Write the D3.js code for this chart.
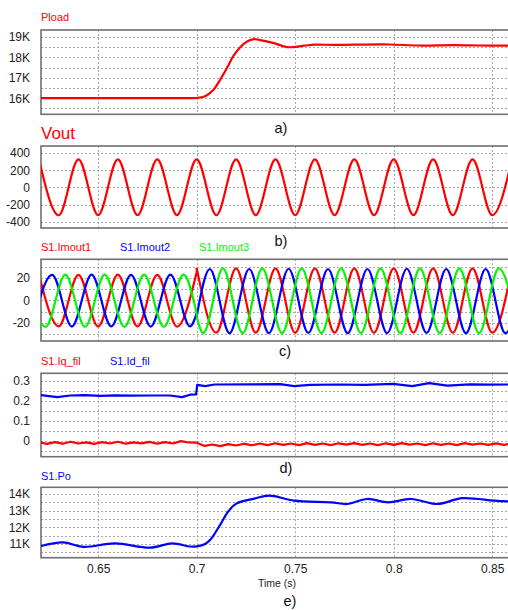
<!DOCTYPE html>
<html lang="en">
<head>
<meta charset="utf-8">
<title>Load step waveforms</title>
<script src="https://cdn.jsdelivr.net/npm/d3@7"></script>
<style>
body { margin: 0; background: #fff; }
text { font-family: "Liberation Sans", Arial, sans-serif; }
</style>
</head>
<body>
<script>
// x axis
var xTicks = [0.65, 0.7, 0.75, 0.8, 0.85];

// a) Pload
var ploadT = [0.621, 0.650, 0.680, 0.696, 0.700, 0.7043, 0.7084, 0.7119, 0.7155, 0.7185, 0.7221, 0.7256, 0.7292, 0.7317, 0.7393, 0.7459, 0.7546, 0.7596, 0.7700, 0.7977, 0.8129, 0.8307, 0.8434, 0.8581];
var ploadV = [16000, 16000, 16000, 16000, 16010, 16100, 16400, 16900, 17500, 18050, 18500, 18780, 18890, 18860, 18700, 18500, 18570, 18620, 18610, 18630, 18580, 18600, 18580, 18570];
var ploadTicks = [16000, 17000, 18000, 19000];

// b) Vout (peaks and troughs)
var voutT = [0.62, 0.63, 0.64, 0.65, 0.66, 0.67, 0.68, 0.69, 0.70, 0.71, 0.72, 0.73, 0.74, 0.75, 0.76, 0.77, 0.78, 0.79, 0.80, 0.81, 0.82, 0.83, 0.84, 0.85, 0.86];
var voutV = [325, -322, 326, -321, 325, -322, 326, -321, 325, -322, 326, -321, 325, -322, 326, -321, 325, -322, 326, -321, 325, -322, 326, -321, 325];
var voutTicks = [-400, -200, 0, 200, 400];

// c) output currents, before and after the step at 0.7 s
var im1PreT = [0.62, 0.63, 0.64, 0.65, 0.66, 0.67, 0.68, 0.69, 0.70];
var im1PreV = [23, -23, 22.8, -23.2, 23, -23, 22.8, -23.2, 25];
var im1PostT = [0.70, 0.71, 0.72, 0.73, 0.74, 0.75, 0.76, 0.77, 0.78, 0.79, 0.80, 0.81, 0.82, 0.83, 0.84, 0.85, 0.86];
var im1PostV = [29, -28.6, 28.6, -28.6, 28.5, -28.7, 28.6, -28.6, 28.5, -28.7, 28.6, -28.6, 28.5, -28.7, 28.6, -28.6, 28.5];

var im2PreT = [0.61667, 0.62667, 0.63667, 0.64667, 0.65667, 0.66667, 0.67667, 0.68667, 0.69667, 0.70];
var im2PreV = [-23, 22.8, -23.2, 23, -23, 22.8, -23.2, 23, -23, -11.5];
var im2PostT = [0.70, 0.70667, 0.71667, 0.72667, 0.73667, 0.74667, 0.75667, 0.76667, 0.77667, 0.78667, 0.79667, 0.80667, 0.81667, 0.82667, 0.83667, 0.84667, 0.85667, 0.86667];
var im2PostV = [-14.2, 28, -29, 28, -29, 28.2, -28.8, 28, -29, 28, -29, 28.2, -28.8, 28, -29, 28, -29, 28];

var im3PreT = [0.61333, 0.62333, 0.63333, 0.64333, 0.65333, 0.66333, 0.67333, 0.68333, 0.69333, 0.70];
var im3PreV = [23, -23.5, 23, -23.5, 23, -23.5, 23, -23.5, 23, -11.5];
var im3PostT = [0.70, 0.70333, 0.71333, 0.72333, 0.73333, 0.74333, 0.75333, 0.76333, 0.77333, 0.78333, 0.79333, 0.80333, 0.81333, 0.82333, 0.83333, 0.84333, 0.85333, 0.86333];
var im3PostV = [-14.2, -29, 28.6, -29, 28.6, -29, 28.6, -29, 28.6, -29, 28.6, -29, 28.6, -29, 28.6, -29, 28.6, -29];
var imTicks = [-20, 0, 20];

// d) filtered dq currents
var idT = [0.621, 0.6292, 0.6358, 0.6434, 0.651, 0.6586, 0.6662, 0.6764, 0.6865, 0.6926, 0.6967, 0.6997, 0.7003, 0.7043, 0.709, 0.7292, 0.7424, 0.7495, 0.7576, 0.7728, 0.7855, 0.7997, 0.8094, 0.818, 0.8272, 0.8388, 0.849, 0.8581];
var idV = [0.228, 0.218, 0.226, 0.228, 0.224, 0.227, 0.225, 0.226, 0.226, 0.218, 0.230, 0.232, 0.279, 0.273, 0.281, 0.282, 0.283, 0.273, 0.279, 0.281, 0.279, 0.284, 0.273, 0.288, 0.275, 0.282, 0.280, 0.281];
var iqT = [0.620, 0.624, 0.628, 0.632, 0.636, 0.640, 0.644, 0.648, 0.652, 0.656, 0.660, 0.664, 0.668, 0.672, 0.676, 0.680, 0.684, 0.688, 0.692, 0.696, 0.700,
           0.704, 0.708, 0.712, 0.716, 0.720, 0.724, 0.728, 0.732, 0.736, 0.740, 0.744, 0.748, 0.752, 0.756, 0.760, 0.764, 0.768, 0.772, 0.776, 0.780,
           0.784, 0.788, 0.792, 0.796, 0.800, 0.804, 0.808, 0.812, 0.816, 0.820, 0.824, 0.828, 0.832, 0.836, 0.840, 0.844, 0.848, 0.852, 0.856, 0.860];
var iqV = [-0.008, -0.016, -0.007, -0.015, -0.005, -0.014, -0.008, -0.016, -0.007, -0.014, -0.005, -0.015, -0.008, -0.013, -0.006, -0.015, -0.007, -0.014, -0.002, -0.009, -0.010,
           -0.026, -0.019, -0.027, -0.017, -0.024, -0.015, -0.023, -0.014, -0.022, -0.013, -0.021, -0.014, -0.022, -0.012, -0.021, -0.014, -0.022, -0.013, -0.020, -0.012,
           -0.021, -0.014, -0.022, -0.013, -0.021, -0.012, -0.020, -0.014, -0.022, -0.013, -0.021, -0.014, -0.022, -0.012, -0.020, -0.014, -0.021, -0.013, -0.021, -0.014];
var dqTicks = [0, 0.1, 0.2, 0.3];

// e) output power
var poT = [0.621, 0.6322, 0.6424, 0.6586, 0.6764, 0.6876, 0.6967, 0.700, 0.7043, 0.7069, 0.7119, 0.716, 0.7201, 0.7292, 0.7368, 0.7495, 0.7683, 0.7764, 0.7865, 0.7972, 0.8089, 0.8221, 0.8348, 0.851, 0.8581];
var poV = [10880, 11100, 10830, 11040, 10780, 11040, 10850, 10860, 11000, 11250, 12150, 12950, 13420, 13720, 13900, 13600, 13500, 13400, 13700, 13500, 13700, 13400, 13750, 13600, 13550];
var poTicks = [11000, 12000, 13000, 14000];

var w = 508;
var h = 610;
var left = 41;
var right = 510;

var x = d3.scaleLinear().domain([0.621, 0.858]).range([left, 508]);

var svg = d3.select("body")
            .append("svg")
            .attr("width", w)
            .attr("height", h);

var fmtK = function(d) { return (d / 1000) + "K"; };

//build one panel: frame, grid, y labels, clip
function panel(id, top, bottom, domain, ticks, gridStep, fmt) {
    var y = d3.scaleLinear().domain(domain).range([bottom, top]);
    var g = svg.append("g");

    g.append("clipPath").attr("id", id)
        .append("rect")
        .attr("x", left).attr("y", top)
        .attr("width", right - left).attr("height", bottom - top);

    var gridVals = d3.range(Math.ceil(domain[0] / gridStep) * gridStep, domain[1], gridStep);
    g.selectAll(".hg")
        .data(gridVals)
        .enter()
        .append("line")
        .attr("x1", left).attr("x2", right)
        .attr("y1", function(d) { return Math.round(y(d)) + 0.5; })
        .attr("y2", function(d) { return Math.round(y(d)) + 0.5; })
        .attr("stroke", "#a8a8a8")
        .attr("stroke-dasharray", "2,2");

    g.selectAll(".vg")
        .data(xTicks)
        .enter()
        .append("line")
        .attr("x1", function(d) { return Math.round(x(d)) + 0.5; })
        .attr("x2", function(d) { return Math.round(x(d)) + 0.5; })
        .attr("y1", top).attr("y2", bottom)
        .attr("stroke", "#a8a8a8")
        .attr("stroke-dasharray", "2,2");

    var ax = g.append("g")
        .attr("transform", "translate(" + left + ",0)")
        .call(d3.axisLeft(y).tickValues(ticks).tickSize(0).tickPadding(11).tickFormat(fmt));
    ax.select(".domain").remove();
    ax.selectAll("text")
        .attr("font-family", "Liberation Sans, Arial, sans-serif")
        .attr("font-size", "12px")
        .attr("fill", "#222");

    g.append("rect")
        .attr("x", left).attr("y", top)
        .attr("width", right - left).attr("height", bottom - top)
        .attr("fill", "none")
        .attr("stroke", "#707070")
        .attr("stroke-width", 1.6);

    return { y: y, g: svg.append("g").attr("clip-path", "url(#" + id + ")") };
}

function draw(p, ts, vs, color, curve) {
    var line = d3.line()
        .x(function(d) { return x(d[0]); })
        .y(function(d) { return p.y(d[1]); })
        .curve(curve || d3.curveMonotoneX);
    p.g.append("path")
        .datum(d3.zip(ts, vs))
        .attr("d", line)
        .attr("fill", "none")
        .attr("stroke", color)
        .attr("stroke-width", 2.2)
        .attr("stroke-linejoin", "round");
}

//draws a wave split at the step, joined by a straight piece
function drawStep(p, preT, preV, postT, postV, color) {
    draw(p, preT, preV, color);
    draw(p, [preT[preT.length - 1], postT[0] + 0.0001], [preV[preV.length - 1], postV[0]], color, d3.curveLinear);
    draw(p, postT, postV, color);
}

function label(txt, lx, ly, color, size) {
    svg.append("text")
        .text(txt)
        .attr("x", lx).attr("y", ly)
        .attr("font-size", size + "px")
        .attr("fill", color);
}

var RED = "#ff0000", BLUE = "#0000ff", GREEN = "#00f500";
var smooth = d3.curveCatmullRom.alpha(0.5);

//a)
var pa = panel("ca", 30, 114.3, [15210, 19340], ploadTicks, 500, fmtK);
draw(pa, ploadT, ploadV, RED, smooth);
label("Pload", 41, 21, RED, 11);

//b)
var pb = panel("cb", 146, 228, [-470, 481], voutTicks, 200, function(d) { return d; });
draw(pb, voutT, voutV, RED);
label("Vout", 41, 139, RED, 17);

//c)
var pc = panel("cc", 259.3, 341, [-36, 36.6], imTicks, 10, function(d) { return d; });
drawStep(pc, im1PreT, im1PreV, im1PostT, im1PostV, RED);
drawStep(pc, im2PreT, im2PreV, im2PostT, im2PostV, BLUE);
drawStep(pc, im3PreT, im3PreV, im3PostT, im3PostV, GREEN);
label("S1.Imout1", 41, 251, RED, 11);
label("S1.Imout2", 120, 251, BLUE, 11);
label("S1.Imout3", 199, 251, GREEN, 11);

//d)
var pd = panel("cd", 373.3, 456.7, [-0.08, 0.337], dqTicks, 0.05, function(d) { return d; });
draw(pd, iqT, iqV, RED, d3.curveLinear);
draw(pd, idT, idV, BLUE, d3.curveLinear);
label("S1.Iq_fil", 41, 365, RED, 11);
label("S1.Id_fil", 110, 365, BLUE, 11);

//e)
var pe = panel("ce", 487.3, 557.7, [10180, 14400], poTicks, 500, fmtK);
draw(pe, poT, poV, BLUE, smooth);
label("S1.Po", 41, 480, BLUE, 11);

//time axis
var xa = svg.append("g")
    .attr("transform", "translate(0,557.7)")
    .call(d3.axisBottom(x).tickValues(xTicks).tickSize(0).tickPadding(7).tickFormat(function(d) { return String(d); }));
xa.select(".domain").remove();
xa.selectAll("text")
    .attr("font-family", "Liberation Sans, Arial, sans-serif")
    .attr("font-size", "12px")
    .attr("fill", "#222");

svg.append("text")
    .text("Time (s)")
    .attr("x", 277).attr("y", 587)
    .attr("text-anchor", "middle")
    .attr("font-size", "10.5px")
    .attr("fill", "#222");

//sub figure letters
var subs = ["a)", "b)", "c)", "d)", "e)"];
var subX = [281, 281, 285, 286, 290];
var subY = [133, 246, 356, 473, 606];
svg.selectAll(".sub")
    .data(subs)
    .enter()
    .append("text")
    .text(function(d) { return d; })
    .attr("x", function(d, i) { return subX[i]; })
    .attr("y", function(d, i) { return subY[i]; })
    .attr("text-anchor", "middle")
    .attr("font-size", "14.5px")
    .attr("fill", "#111");
</script>
</body>
</html>
